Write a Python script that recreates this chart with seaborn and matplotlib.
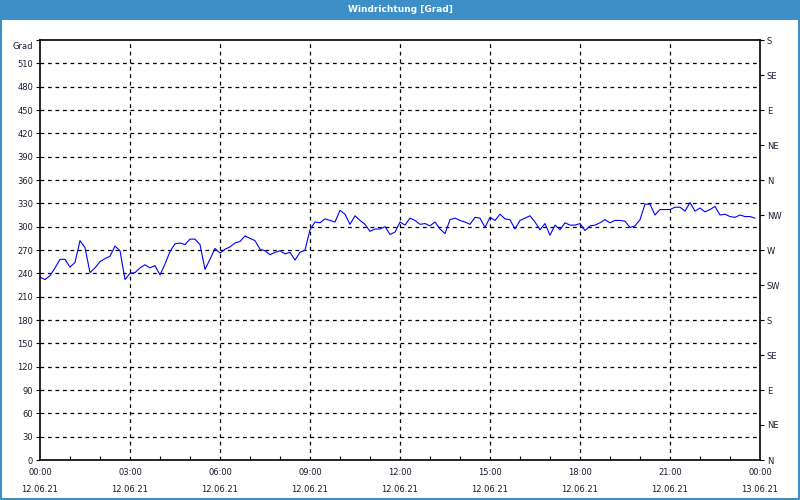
import matplotlib
matplotlib.use("Agg")
import matplotlib.pyplot as plt
from matplotlib.patches import Rectangle
from matplotlib.ticker import MultipleLocator
from matplotlib.transforms import ScaledTranslation
import seaborn as sns
import pandas as pd

# ---- data ----
minutes = list(range(0, 1440, 10))
direction = [
    235, 232, 237, 247, 258, 258, 248, 254, 282, 273, 241, 247,
    255, 259, 262, 275, 269, 232, 240, 241, 247, 251, 247, 250,
    238, 252, 268, 278, 279, 277, 284, 284, 277, 245, 258, 272,
    266, 271, 274, 279, 281, 288, 285, 282, 271, 269, 264, 267,
    269, 265, 267, 257, 267, 270, 296, 306, 305, 310, 308, 306,
    321, 316, 303, 314, 308, 303, 294, 297, 297, 300, 290, 293,
    306, 302, 311, 308, 303, 304, 301, 306, 297, 291, 309, 311,
    308, 306, 303, 312, 311, 299, 312, 308, 316, 310, 309, 297,
    308, 311, 314, 306, 296, 304, 289, 302, 296, 305, 302, 302,
    304, 295, 301, 302, 305, 309, 305, 308, 308, 307, 299, 301,
    309, 329, 329, 315, 322, 322, 322, 325, 325, 320, 331, 320,
    324, 319, 322, 326, 315, 316, 313, 312, 315, 313, 313, 311,
]
x_tick_hours = [0, 3, 6, 9, 12, 15, 18, 21, 24]
x_tick_labels = ["00:00\n12.06.21", "03:00\n12.06.21", "06:00\n12.06.21",
                 "09:00\n12.06.21", "12:00\n12.06.21", "15:00\n12.06.21",
                 "18:00\n12.06.21", "21:00\n12.06.21", "00:00\n13.06.21"]
left_ticks = list(range(0, 541, 30))
left_labels = [str(v) for v in left_ticks[:-1]] + ["Grad"]
right_ticks = list(range(0, 541, 45))
right_labels = ["N", "NE", "E", "SE", "S", "SW", "W", "NW", "N", "NE", "E", "SE", "S"]
title = "Windrichtung [Grad]"

df = pd.DataFrame({"hour": [m / 60 for m in minutes], "deg": direction})

# ---- plot ----
sns.set_theme(style="white")
plt.rcParams["font.family"] = ["DejaVu Sans"]
fs = 6
txtc = "#1a1a2e"

fig = plt.figure(figsize=(8, 5), dpi=100, facecolor="white")
ax = fig.add_axes([0.05, 0.08, 0.90, 0.84])
ax.set_facecolor("white")

sns.lineplot(data=df, x="hour", y="deg", ax=ax, color="#0000ff", linewidth=0.8)

ax.set_xlim(0, 24)
ax.set_ylim(0, 540)
ax.set_xlabel("")
ax.set_ylabel("")

ax.set_xticks(x_tick_hours)
ax.set_xticklabels(x_tick_labels, fontsize=fs, color=txtc, linespacing=2.1)
ax.xaxis.set_minor_locator(MultipleLocator(1))
ax.set_yticks(left_ticks)
ax.set_yticklabels(left_labels, fontsize=fs, color=txtc)

ax.tick_params(axis="x", which="major", direction="in", length=4, width=0.8,
               color="black", pad=6)
ax.tick_params(axis="x", which="minor", direction="in", length=3, width=0.8,
               color="black", bottom=True)
ax.tick_params(axis="y", which="major", direction="out", length=3, width=0.8,
               color="black", pad=2)

# shift the "Grad" label slightly down as in the reference
grad_lbl = ax.get_yticklabels()[-1]
grad_lbl.set_transform(grad_lbl.get_transform() +
                       ScaledTranslation(0, -5 / 100, fig.dpi_scale_trans))

for y in left_ticks[1:-1]:
    ax.axhline(y, color="black", linewidth=0.9, linestyle=(0, (3, 3)), zorder=1)
for h in x_tick_hours[1:-1]:
    ax.axvline(h, color="black", linewidth=0.9, linestyle=(0, (3, 3)), zorder=1)

for s in ax.spines.values():
    s.set_visible(True)
    s.set_color("black")
    s.set_linewidth(1.2)

ax2 = ax.twinx()
ax2.set_ylim(0, 540)
ax2.set_yticks(right_ticks)
ax2.set_yticklabels(right_labels, fontsize=fs, color=txtc)
ax2.tick_params(axis="y", direction="out", length=3, width=0.8, color="black", pad=2)
for s in ax2.spines.values():
    s.set_visible(False)

# title bar and frame
fig.patches.append(Rectangle((0, 1 - 20 / 500), 1, 20 / 500, transform=fig.transFigure,
                             facecolor="#3c8fc7", edgecolor="none", zorder=0))
fig.patches.append(Rectangle((0.001, 0.002), 0.998, 0.996, transform=fig.transFigure,
                             facecolor="none", edgecolor="#3c8fc7", linewidth=1.5, zorder=0))
fig.text(0.5, 1 - 10 / 500, title, ha="center", va="center", color="white",
         fontsize=6.5, fontweight="bold")

fig.savefig("out.png", dpi=100, facecolor="white")
